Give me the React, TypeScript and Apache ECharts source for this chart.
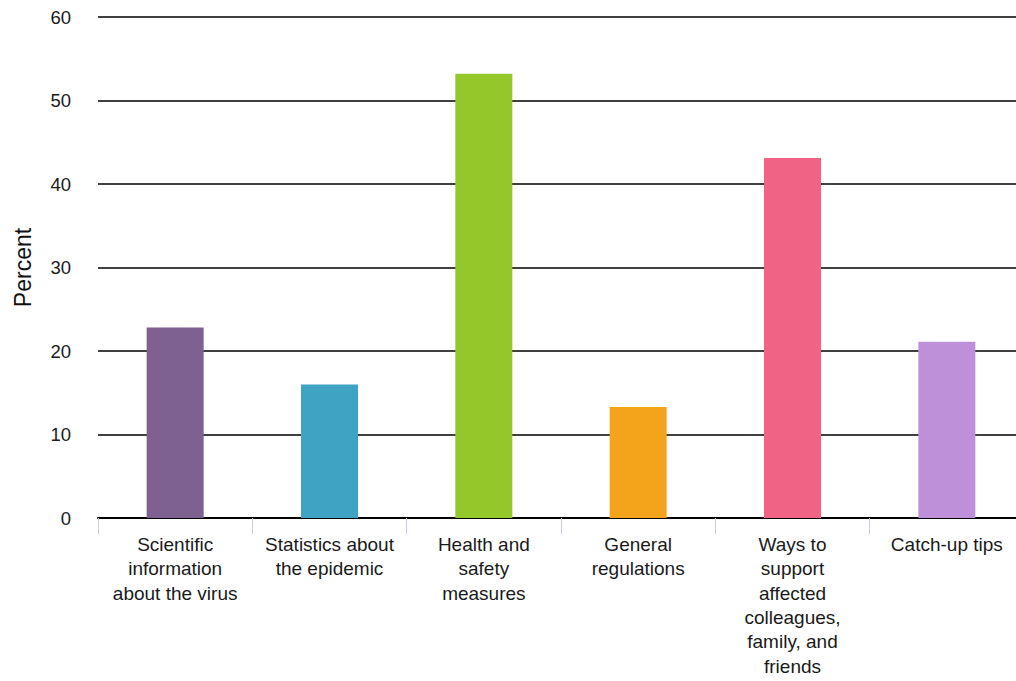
import React, { useEffect, useRef } from "react";
import * as echarts from "echarts";

const categories = [
  "Scientific\ninformation\nabout the virus",
  "Statistics about\nthe epidemic",
  "Health and\nsafety\nmeasures",
  "General\nregulations",
  "Ways to\nsupport\naffected\ncolleagues,\nfamily, and\nfriends",
  "Catch-up tips",
];
const values = [22.8, 16.0, 53.2, 13.3, 43.1, 21.1];
const colors = ["#7e6190", "#3fa3c3", "#94c72a", "#f4a41b", "#f06384", "#be90da"];
const yTicks = { min: 0, max: 60, interval: 10 };
const yName = "Percent";

const FONT = "Liberation Sans, Arial, Helvetica, sans-serif";

export default function App() {
  const ref = useRef<HTMLDivElement>(null);
  useEffect(() => {
    if (!ref.current) return;
    const chart = echarts.init(ref.current, undefined, { renderer: "svg" });
    chart.setOption({
      animation: false,
      grid: { left: 98, right: 0, top: 17, bottom: 163, containLabel: false },
      xAxis: {
        type: "category",
        data: categories,
        axisLine: { show: true, lineStyle: { color: "#000", width: 2 } },
        axisTick: { show: true, length: 16, lineStyle: { color: "#c8cce6", width: 1 } },
        axisLabel: {
          interval: 0,
          margin: 14,
          fontSize: 19,
          lineHeight: 24.4,
          color: "#1a1a1a",
          fontFamily: FONT,
        },
      },
      yAxis: {
        type: "value",
        min: yTicks.min,
        max: yTicks.max,
        interval: yTicks.interval,
        name: yName,
        nameLocation: "middle",
        nameGap: 64,
        nameTextStyle: { fontSize: 23, color: "#111", fontFamily: FONT },
        axisLine: { show: false },
        axisTick: { show: false },
        axisLabel: {
          margin: 27,
          fontSize: 18.5,
          color: "#1a1a1a",
          fontFamily: FONT,
        },
        splitLine: { show: true, lineStyle: { color: "#000", width: 1.5 } },
      },
      series: [
        {
          type: "bar",
          data: values.map((v, i) => ({ value: v, itemStyle: { color: colors[i] } })),
          barWidth: 57,
        },
      ],
    });
    return () => chart.dispose();
  }, []);
  return (
    <div
      ref={ref}
      style={{ position: "fixed", left: 0, top: 0, width: 1024, height: 681, background: "#fff" }}
    />
  );
}
